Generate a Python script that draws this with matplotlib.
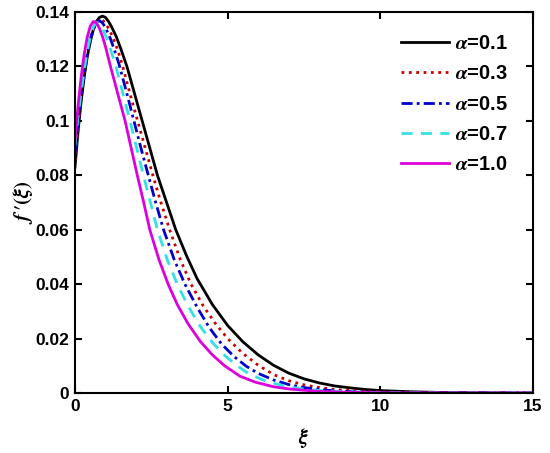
import matplotlib
matplotlib.use("Agg")
import matplotlib.pyplot as plt

plt.rcParams['font.family'] = ['Liberation Sans', 'DejaVu Sans']
plt.rcParams['font.weight'] = 'bold'
plt.rcParams['mathtext.fontset'] = 'stix'

# values
x1 = [0, 0.1, 0.2, 0.3, 0.4, 0.5, 0.6, 0.7, 0.8, 0.9, 1.0, 1.1, 1.2, 1.35, 1.5, 1.7, 1.95, 2.2, 2.45, 2.7,
      3.0, 3.3, 3.65, 4.0, 4.5, 5.0, 5.5, 6.0, 6.5, 7.0, 7.5, 8.0, 8.5, 9.0, 9.5, 10, 11, 12, 13, 14, 15]
f1 = [0.083, 0.096, 0.107, 0.116, 0.1235, 0.129, 0.1335, 0.1365, 0.138, 0.1385, 0.138, 0.1365, 0.1345, 0.131,
      0.1265, 0.120, 0.110, 0.100, 0.090, 0.080, 0.070, 0.060, 0.0505, 0.042, 0.0325, 0.0248, 0.0188, 0.0140,
      0.0102, 0.0073, 0.0052, 0.0037, 0.0026, 0.0019, 0.0013, 0.0009, 0.00045, 0.0002, 0.0001, 0.00004, 0]

x3 = [0, 0.1, 0.2, 0.3, 0.4, 0.5, 0.6, 0.7, 0.8, 0.9, 1.0, 1.1, 1.25, 1.4, 1.55, 1.8, 2.05, 2.3, 2.55, 2.8,
      3.1, 3.45, 3.8, 4.2, 4.6, 5.0, 5.5, 6.0, 6.5, 7.0, 7.5, 8.0, 8.5, 9.0, 10, 11, 12, 13, 15]
f3 = [0.0855, 0.098, 0.108, 0.117, 0.124, 0.1295, 0.1335, 0.136, 0.1372, 0.137, 0.1358, 0.134, 0.1305, 0.126,
      0.1205, 0.110, 0.100, 0.090, 0.080, 0.0705, 0.060, 0.049, 0.040, 0.032, 0.0255, 0.020, 0.0145, 0.0102,
      0.0068, 0.0045, 0.0030, 0.0020, 0.0013, 0.0009, 0.0004, 0.00017, 0.00007, 0.00003, 0]

x5 = [0, 0.1, 0.2, 0.3, 0.4, 0.5, 0.6, 0.7, 0.8, 0.9, 1.0, 1.15, 1.3, 1.45, 1.7, 1.93, 2.16, 2.4, 2.63, 2.9,
      3.25, 3.6, 4.0, 4.4, 4.8, 5.2, 5.6, 6.0, 6.5, 7.0, 7.5, 8.0, 8.5, 9.0, 10, 11, 12, 15]
f5 = [0.088, 0.0995, 0.109, 0.1175, 0.1245, 0.130, 0.1338, 0.1362, 0.1368, 0.136, 0.1342, 0.1305, 0.1258, 0.1205,
      0.110, 0.100, 0.090, 0.080, 0.0705, 0.060, 0.049, 0.040, 0.0315, 0.024, 0.018, 0.0135, 0.0099, 0.0072,
      0.0048, 0.0031, 0.0020, 0.0013, 0.0008, 0.0005, 0.00023, 0.00008, 0.00003, 0]

x7 = [0, 0.1, 0.2, 0.3, 0.4, 0.5, 0.6, 0.7, 0.8, 0.9, 1.05, 1.2, 1.34, 1.57, 1.8, 2.02, 2.24, 2.46, 2.7, 3.02,
      3.35, 3.7, 4.1, 4.5, 4.9, 5.3, 5.7, 6.2, 6.7, 7.2, 7.7, 8.2, 9.0, 10, 11, 15]
f7 = [0.091, 0.1015, 0.1105, 0.1185, 0.1255, 0.1308, 0.1345, 0.1362, 0.1358, 0.134, 0.130, 0.125, 0.120, 0.110,
      0.100, 0.090, 0.080, 0.0705, 0.060, 0.049, 0.040, 0.032, 0.0245, 0.0185, 0.0138, 0.0101, 0.0070, 0.0046,
      0.0030, 0.0019, 0.0012, 0.0008, 0.0004, 0.00015, 0.00005, 0]

x10 = [0, 0.1, 0.2, 0.3, 0.4, 0.5, 0.6, 0.7, 0.8, 0.9, 1.0, 1.15, 1.4, 1.64, 1.84, 2.04, 2.24, 2.45, 2.75, 3.05,
       3.35, 3.7, 4.1, 4.5, 4.9, 5.4, 5.9, 6.5, 7.0, 7.5, 8.0, 9.0, 10, 11, 15]
f10 = [0.093, 0.1055, 0.116, 0.1245, 0.1307, 0.1348, 0.1365, 0.136, 0.134, 0.131, 0.1272, 0.1205, 0.110, 0.100,
       0.090, 0.080, 0.0705, 0.060, 0.049, 0.040, 0.0325, 0.0255, 0.019, 0.0140, 0.0100, 0.0062, 0.0040, 0.0023,
       0.0015, 0.0010, 0.0006, 0.00025, 0.0001, 0.00004, 0]

labels = [r'$\alpha$=0.1', r'$\alpha$=0.3', r'$\alpha$=0.5', r'$\alpha$=0.7', r'$\alpha$=1.0']
yticks = [0, 0.02, 0.04, 0.06, 0.08, 0.1, 0.12, 0.14]
ytick_labels = ['0', '0.02', '0.04', '0.06', '0.08', '0.1', '0.12', '0.14']
xticks = [0, 5, 10, 15]

fig = plt.figure(figsize=(5.5, 4.53), dpi=100)
ax = fig.add_axes([75/550, 1-393/453, 458/550, 381/453])

ax.plot(x1, f1, color='black', ls='-', lw=2, label=labels[0])
ax.plot(x3, f3, color='#cc0000', ls=':', lw=2, label=labels[1])
ax.plot(x5, f5, color='#0000cc', ls=(0, (4, 1.5, 1, 1.5)), lw=2, label=labels[2])
ax.plot(x7, f7, color='#33e0e6', ls=(0, (4, 3)), lw=2, label=labels[3])
ax.plot(x10, f10, color='#dd00dd', ls='-', lw=2, label=labels[4])

ax.set_xlim(0, 15)
ax.set_ylim(0, 0.14)
ax.set_xticks(xticks)
ax.set_yticks(yticks)
ax.set_yticklabels(ytick_labels)
ax.tick_params(direction='in', length=5, width=1.5, labelsize=12.5, top=True, right=True, pad=4)
for s in ax.spines.values():
    s.set_linewidth(1.5)

ax.set_xlabel(r'$\xi$', fontsize=15, labelpad=9)
ax.set_ylabel(r"$f\,′(\xi)$", fontsize=15, labelpad=0)

leg = ax.legend(loc='upper left', bbox_to_anchor=(401/550, 1-34/453), bbox_transform=fig.transFigure,
                frameon=False, fontsize=14.5, handlelength=2.4, handletextpad=0.3, labelspacing=0.56,
                borderpad=0, borderaxespad=0)

fig.savefig('out.png', dpi=100)
